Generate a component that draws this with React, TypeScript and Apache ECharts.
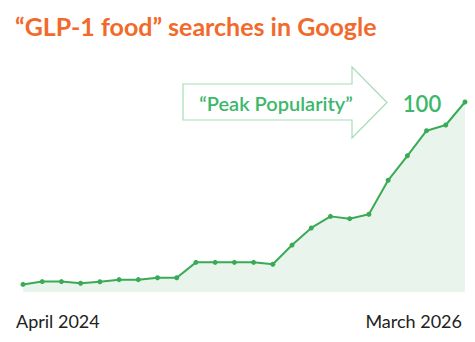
import React, { useEffect, useRef } from "react";
import * as echarts from "echarts";

const months = [
  "Apr 2024","May 2024","Jun 2024","Jul 2024","Aug 2024","Sep 2024","Oct 2024","Nov 2024",
  "Dec 2024","Jan 2025","Feb 2025","Mar 2025","Apr 2025","May 2025","Jun 2025","Jul 2025",
  "Aug 2025","Sep 2025","Oct 2025","Nov 2025","Dec 2025","Jan 2026","Feb 2026","Mar 2026",
];
const interest = [4, 5.5, 5.5, 4.6, 5.4, 6.5, 6.5, 7.5, 7.5, 15.6, 15.6, 15.6, 15.6, 14.6, 24.7, 33.7, 39.8, 38.6, 40.9, 58.8, 71.7, 84.9, 87.9, 100];
const startLabel = "April 2024";
const endLabel = "March 2026";
const titleText = "\u201CGLP-1 food\u201D searches in Google";
const calloutText = "\u201CPeak Popularity\u201D";
const peakLabel = "100";

export default function App() {
  const ref = useRef<HTMLDivElement>(null);
  useEffect(() => {
    if (!ref.current) return;
    const chart = echarts.init(ref.current, undefined, { renderer: "svg" });
    const font = "Lato, 'Noto Sans', sans-serif";
    chart.setOption({
      animation: false,
      backgroundColor: "#ffffff",
      grid: { left: 23, right: 10, top: 102, bottom: 50 },
      xAxis: {
        type: "category",
        data: months,
        boundaryGap: false,
        axisLine: { show: false },
        axisTick: { show: false },
        axisLabel: { show: false },
        splitLine: { show: false },
      },
      yAxis: {
        type: "value",
        min: 0,
        max: 100,
        show: false,
        splitLine: { show: false },
      },
      series: [
        {
          type: "line",
          data: interest,
          symbol: "circle",
          symbolSize: 5,
          lineStyle: { color: "#3aab55", width: 2 },
          itemStyle: { color: "#3aab55" },
          areaStyle: { color: "#e9f5ec", opacity: 1 },
        },
      ],
      graphic: [
        {
          type: "text",
          x: 15,
          y: 26,
          style: { text: titleText, fill: "#f26a2b", font: `bold 25px ${font}`, verticalAlign: "middle" },
        },
        {
          type: "polygon",
          shape: {
            points: [
              [183, 84], [352, 84], [352, 67], [387, 102.5], [352, 138], [352, 120], [183, 120],
            ],
          },
          style: { fill: "#ffffff", stroke: "#a6dcb6", lineWidth: 1.2 },
        },
        {
          type: "text",
          x: 276,
          y: 103,
          style: {
            text: calloutText,
            fill: "#3cb86a",
            font: `600 20px ${font}`,
            align: "center",
            verticalAlign: "middle",
          },
        },
        {
          type: "text",
          x: 422,
          y: 103,
          style: {
            text: peakLabel,
            fill: "#3cb86a",
            font: `600 22px ${font}`,
            align: "center",
            verticalAlign: "middle",
          },
        },
        {
          type: "text",
          x: 16,
          y: 321,
          style: { text: startLabel, fill: "#222222", font: `18px ${font}`, verticalAlign: "middle" },
        },
        {
          type: "text",
          x: 462,
          y: 321,
          style: { text: endLabel, fill: "#222222", font: `18px ${font}`, align: "right", verticalAlign: "middle" },
        },
      ],
    });
    return () => chart.dispose();
  }, []);
  return <div ref={ref} style={{ width: 475, height: 342, position: "fixed", left: 0, top: 0 }} />;
}
